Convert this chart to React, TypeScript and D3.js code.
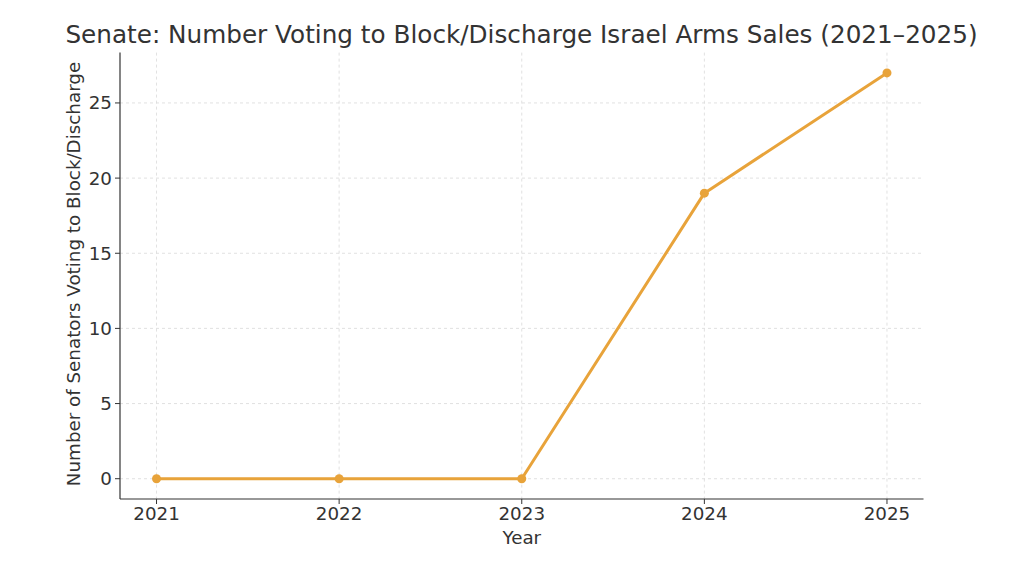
import React from "react";
import * as d3 from "d3";

const years = [2021, 2022, 2023, 2024, 2025];
const senators = [0, 0, 0, 19, 27];
const yTicks = [0, 5, 10, 15, 20, 25];
const title = "Senate: Number Voting to Block/Discharge Israel Arms Sales (2021–2025)";
const xLabel = "Year";
const yLabel = "Number of Senators Voting to Block/Discharge";

const W = 1024;
const H = 565;
const left = 120;
const right = 923.5;
const top = 52.6;
const bottom = 499;
const color = "#E8A33A";
const textColor = "#333333";
const font = "'DejaVu Sans', sans-serif";
const fs = 18.3;

export default function App() {
  const x = d3.scaleLinear().domain([2020.8, 2025.2]).range([left, right]);
  const y = d3.scaleLinear().domain([-1.35, 28.35]).range([bottom, top]);
  const line = d3
    .line<number>()
    .x((_, i) => x(years[i]))
    .y((d) => y(d));
  return (
    <svg
      width={W}
      height={H}
      style={{ position: "absolute", left: 0, top: 0, background: "#fff" }}
      fontFamily={font}
    >
      <text x={(65 + 978) / 2} y={43} textAnchor="middle" fontSize={24.7} fill={textColor}>
        {title}
      </text>
      {years.map((yr) => (
        <line key={"gx" + yr} x1={x(yr)} x2={x(yr)} y1={top} y2={bottom} stroke="#d9d9d9" strokeDasharray="3,3" strokeWidth={0.8} />
      ))}
      {yTicks.map((t) => (
        <line key={"gy" + t} x1={left} x2={right} y1={y(t)} y2={y(t)} stroke="#d9d9d9" strokeDasharray="3,3" strokeWidth={0.8} />
      ))}
      <line x1={left} x2={left} y1={top} y2={bottom} stroke={textColor} strokeWidth={1.2} />
      <line x1={left} x2={right} y1={bottom} y2={bottom} stroke={textColor} strokeWidth={1.2} />
      {years.map((yr) => (
        <g key={"tx" + yr}>
          <line x1={x(yr)} x2={x(yr)} y1={bottom} y2={bottom + 5} stroke={textColor} strokeWidth={1} />
          <text x={x(yr)} y={520} textAnchor="middle" fontSize={fs} fill={textColor}>
            {yr}
          </text>
        </g>
      ))}
      {yTicks.map((t) => (
        <g key={"ty" + t}>
          <line x1={left - 5} x2={left} y1={y(t)} y2={y(t)} stroke={textColor} strokeWidth={1} />
          <text x={left - 8} y={y(t) + 6.5} textAnchor="end" fontSize={fs} fill={textColor}>
            {t}
          </text>
        </g>
      ))}
      <text x={(left + right) / 2} y={544} textAnchor="middle" fontSize={fs} fill={textColor}>
        {xLabel}
      </text>
      <text
        transform={`translate(80, ${(58 + 490) / 2}) rotate(-90)`}
        textAnchor="middle"
        fontSize={fs}
        fill={textColor}
      >
        {yLabel}
      </text>
      <path d={line(senators) || ""} fill="none" stroke={color} strokeWidth={3} strokeLinejoin="round" />
      {senators.map((v, i) => (
        <circle key={"p" + i} cx={x(years[i])} cy={y(v)} r={4.5} fill={color} />
      ))}
    </svg>
  );
}
